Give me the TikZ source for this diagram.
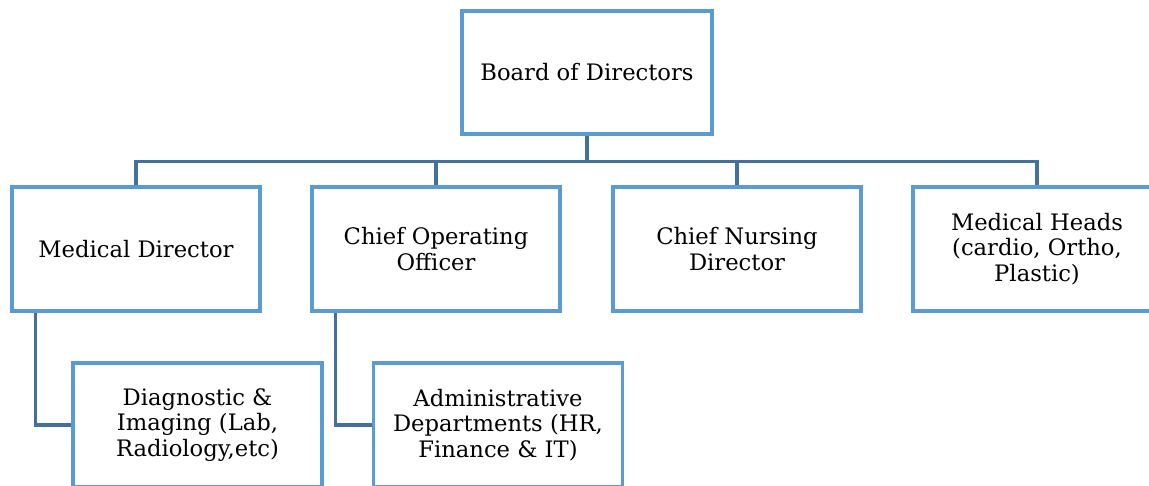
\documentclass[tikz,border=0pt]{standalone}
\usepackage{fontspec}
\setmainfont{DejaVu Serif}
\usetikzlibrary{positioning, calc}
\definecolor{boxblue}{HTML}{5B9BD5}
\definecolor{linkblue}{HTML}{41719C}

\begin{document}
\begin{tikzpicture}[
  every node/.style={text=black, font=\fontsize{12.9}{14.6}\selectfont},
  orgbox/.style={draw=boxblue, line width=2pt, fill=white, minimum width=4.96cm, minimum height=2.48cm, align=center, inner sep=4pt},
  link/.style={draw=linkblue, line width=1.8pt},
]

% Page frame
\clip (0,0) rectangle (22.98,9.7);
\fill[white] (0,0) rectangle (22.98,9.7);

% Top of the chart
\node[orgbox, minimum width=5.0cm, minimum height=2.46cm] (board) at (11.74,8.25) {Board of Directors};

% Second level
\node[orgbox] (md)  at (2.72,4.72)  {Medical Director};
\node[orgbox] (coo) at (8.72,4.72)  {Chief Operating\\Officer};
\node[orgbox] (cnd) at (14.74,4.72) {Chief Nursing\\Director};
\node[orgbox] (mh)  at (20.74,4.72) {Medical Heads\\(cardio, Ortho,\\Plastic)};

% Third level
\node[orgbox, minimum width=4.98cm] (diag)  at (3.95,1.2) {Diagnostic \&\\Imaging (Lab,\\Radiology,etc)};
\node[orgbox, minimum width=4.98cm] (admin) at (9.96,1.2) {Administrative\\Departments (HR,\\Finance \& IT)};

% Bus from the board down to the second level
\draw[link] (board.south) -- ++(0,-0.52) coordinate (bus);
\draw[link] (md.north) |- (bus) -| (mh.north);
\draw[link] (coo.north) -- (coo.north |- bus);
\draw[link] (cnd.north) -- (cnd.north |- bus);

% Elbows to the third level
\draw[link] ([xshift=0.5cm]md.south west) |- (diag.west);
\draw[link] ([xshift=0.5cm]coo.south west) |- (admin.west);

\end{tikzpicture}
\end{document}
